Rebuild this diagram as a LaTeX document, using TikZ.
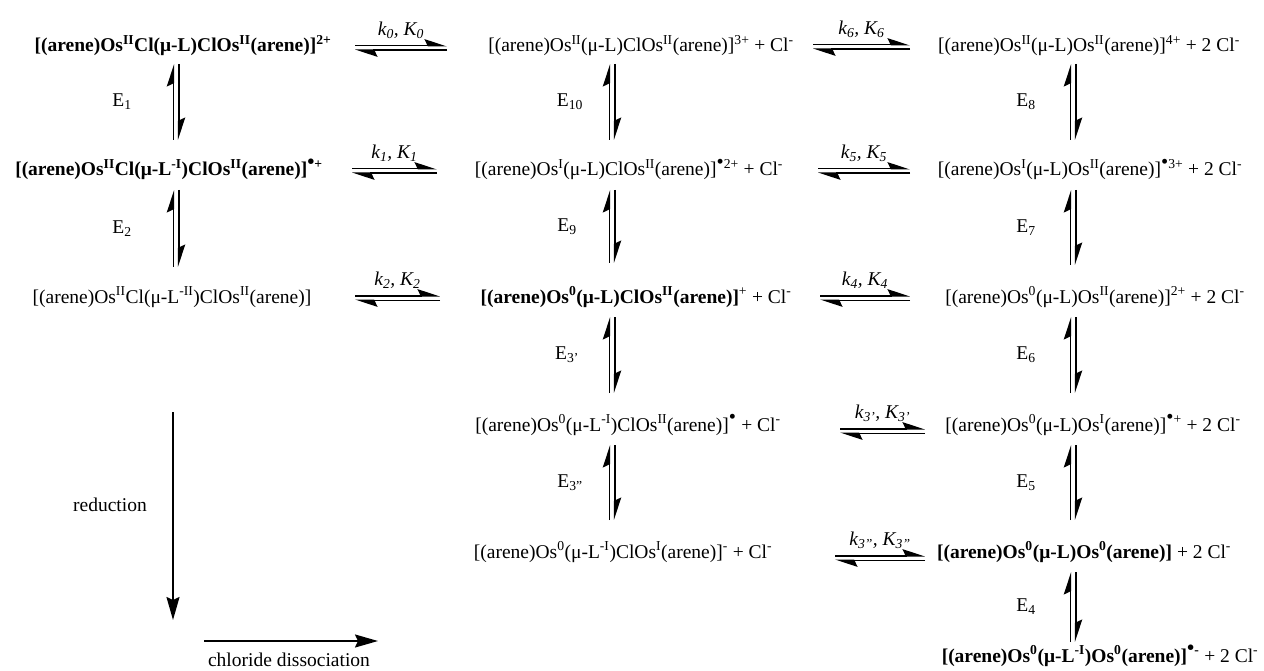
\documentclass[tikz,border=0pt]{standalone}
\usepackage{fontspec}
\setmainfont{Liberation Serif}
\usetikzlibrary{arrows.meta,calc}
\newcommand\sps[1]{\textsuperscript{#1}}
\newcommand\sbs[1]{\textsubscript{#1}}
\newcommand\rad{\scalebox{1.5}{•}}
% horizontal equilibrium: #1 row node, #2 start coord, #3 end coord, #4 label, #5 vertical offset of arrow centre above baseline
\newcommand\heq[5]{%
  \draw[harp] ($(#2 |- #1.base)+(0,-#5-2.3)$) -- ($(#3 |- #1.base)+(0,-#5-2.3)$)
     node[midway,above=6pt,inner sep=0pt]{#4};
  \draw[harp] ($(#3 |- #1.base)+(0,-#5+2.3)$) -- ($(#2 |- #1.base)+(0,-#5+2.3)$);}
% vertical equilibrium: #1 column coord, #2 top node, #3 bottom node, #4 label, #5 top gap, #6 bottom gap, #7 label x offset
\newcommand\veq[7]{%
  \draw[harp] ($(#1 |- #3.base)+(-2.7,-#6)$) -- ($(#1 |- #2.base)+(-2.7,#5)$);
  \draw[harp] ($(#1 |- #2.base)+(2.7,#5)$) -- ($(#1 |- #3.base)+(2.7,-#6)$);
  \node[inner sep=0pt] at ($($(#1 |- #2.base)!0.5!(#1 |- #3.base)$)+(#7,{(#5-#6)/2})$) {#4};}
\begin{document}
\begin{tikzpicture}[x=1pt,y=-1pt,font=\fontsize{19.5}{22}\selectfont,
  harp/.style={line width=1.6pt,-{Stealth[harpoon,length=20pt,width=13pt,inset=3pt]}},
  big/.style={line width=1.6pt,-{Stealth[length=23pt,width=13pt,inset=3pt]}},
  sp/.style={anchor=base,inner sep=0pt}]
\useasboundingbox (0,0) rectangle (1264,671);
% species
\node[sp] (r1L) at (183,52) {\textbf{[(arene)Os\sps{II}Cl(μ-L)ClOs\sps{II}(arene)]\sps{2+}}};
\node[sp] (r1M) at (641,52) {[(arene)Os\sps{II}(μ-L)ClOs\sps{II}(arene)]\sps{3+} + Cl\sps{-}};
\node[sp] (r1R) at (1089,52) {[(arene)Os\sps{II}(μ-L)Os\sps{II}(arene)]\sps{4+} + 2 Cl\sps{-}};
\node[sp] (r2L) at (169,176) {\textbf{[(arene)Os\sps{II}Cl(μ-L\sps{-I})ClOs\sps{II}(arene)]\sps{\rad+}}};
\node[sp] (r2M) at (629,176) {[(arene)Os\sps{I}(μ-L)ClOs\sps{II}(arene)]\sps{\rad2+} + Cl\sps{-}};
\node[sp] (r2R) at (1090,176) {[(arene)Os\sps{I}(μ-L)Os\sps{II}(arene)]\sps{\rad3+} + 2 Cl\sps{-}};
\node[sp] (r3L) at (172,303) {[(arene)Os\sps{II}Cl(μ-L\sps{-II})ClOs\sps{II}(arene)]};
\node[sp] (r3M) at (636,303) {\textbf{[(arene)Os\sps{0}(μ-L)ClOs\sps{II}(arene)]}\sps{+} + Cl\sps{-}};
\node[sp] (r3R) at (1095,303) {[(arene)Os\sps{0}(μ-L)Os\sps{II}(arene)]\sps{2+} + 2 Cl\sps{-}};
\node[sp] (r4M) at (628,431) {[(arene)Os\sps{0}(μ-L\sps{-I})ClOs\sps{II}(arene)]\sps{\rad} + Cl\sps{-}};
\node[sp] (r4R) at (1093,431) {[(arene)Os\sps{0}(μ-L)Os\sps{I}(arene)]\sps{\rad+} + 2 Cl\sps{-}};
\node[sp] (r5M) at (623,558) {[(arene)Os\sps{0}(μ-L\sps{-I})ClOs\sps{I}(arene)]\sps{-} + Cl\sps{-}};
\node[sp] (r5R) at (1084,558) {\textbf{[(arene)Os\sps{0}(μ-L)Os\sps{0}(arene)]} + 2 Cl\sps{-}};
\node[sp] (r6R) at (1100,662) {\textbf{[(arene)Os\sps{0}(μ-L\sps{-I})Os\sps{0}(arene)]\sps{\rad-}} + 2 Cl\sps{-}};
% column and arrow-end coordinates
\coordinate (cL) at (176,0);
\coordinate (cM) at (612,0);
\coordinate (cR) at (1073,0);
\coordinate (a0s) at (355,0); \coordinate (a0e) at (447,0);
\coordinate (a1s) at (352,0); \coordinate (a1e) at (437,0);
\coordinate (a2s) at (355,0); \coordinate (a2e) at (440,0);
\coordinate (a6s) at (813,0); \coordinate (a6e) at (910,0);
\coordinate (a5s) at (818,0); \coordinate (a5e) at (910,0);
\coordinate (a4s) at (820,0); \coordinate (a4e) at (910,0);
\coordinate (a3s) at (840,0); \coordinate (a3e) at (925,0);
\coordinate (a3ts) at (835,0); \coordinate (a3te) at (925,0);
% horizontal equilibria
\heq{r1L}{a0s}{a0e}{\textit{k\sbs{0}, K\sbs{0}}}{4}
\heq{r2L}{a1s}{a1e}{\textit{k\sbs{1}, K\sbs{1}}}{5}
\heq{r3L}{a2s}{a2e}{\textit{k\sbs{2}, K\sbs{2}}}{5}
\heq{r1M}{a6s}{a6e}{\textit{k\sbs{6}, K\sbs{6}}}{5}
\heq{r2M}{a5s}{a5e}{\textit{k\sbs{5}, K\sbs{5}}}{5}
\heq{r3M}{a4s}{a4e}{\textit{k\sbs{4}, K\sbs{4}}}{5}
\heq{r4M}{a3s}{a3e}{\textit{k\sbs{3'}, K\sbs{3'}}}{0}
\heq{r5M}{a3ts}{a3te}{\textit{k\sbs{3''}, K\sbs{3''}}}{0}
% vertical equilibria
\veq{cL}{r1L}{r2L}{E\sbs{1}}{12}{36}{-54}
\veq{cL}{r2L}{r3L}{E\sbs{2}}{14}{36}{-54}
\veq{cM}{r1M}{r2M}{E\sbs{10}}{12}{36}{-42}
\veq{cM}{r2M}{r3M}{E\sbs{9}}{14}{40}{-45}
\veq{cM}{r3M}{r4M}{E\sbs{3'}}{14}{38}{-45}
\veq{cM}{r4M}{r5M}{E\sbs{3''}}{14}{38}{-42}
\veq{cR}{r1R}{r2R}{E\sbs{8}}{12}{36}{-47}
\veq{cR}{r2R}{r3R}{E\sbs{7}}{14}{38}{-47}
\veq{cR}{r3R}{r4R}{E\sbs{6}}{14}{38}{-47}
\veq{cR}{r4R}{r5R}{E\sbs{5}}{14}{38}{-47}
\veq{cR}{r5R}{r6R}{E\sbs{4}}{14}{20}{-47}
% reduction / chloride dissociation
\coordinate (redS) at (173,412);
\coordinate (redE) at (173,620);
\coordinate (clS) at (204,641);
\coordinate (clE) at (378,641);
\draw[big] (redS) -- (redE);
\draw[big] (clS) -- (clE);
\node[inner sep=0pt] (redlab) at (110,505) {reduction};
\node[inner sep=0pt,anchor=base] (cllab) at (289,666) {chloride dissociation};
\end{tikzpicture}
\end{document}
